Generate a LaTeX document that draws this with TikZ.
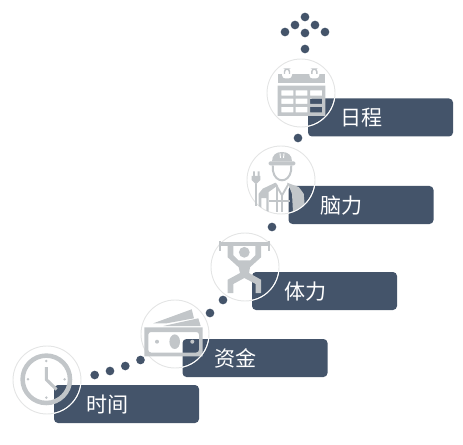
\documentclass[tikz,border=0pt]{standalone}
\usepackage{fontspec}
\newfontfamily\cjk{Noto Sans CJK SC}
\definecolor{barblue}{HTML}{44546A}
\definecolor{glyphgray}{HTML}{C2C6C9}
\definecolor{ringgray}{HTML}{E4E5E5}
\tikzset{
  bar/.style={fill=barblue,rounded corners=3pt,text=white,font=\cjk\fontsize{15.8}{18}\selectfont,
    text width=60.75pt,inner xsep=24pt,inner ysep=0pt,text height=12.5pt,text depth=0.5pt,minimum height=28.5pt,align=left},
  ring/.style={circle,draw=#1,line width=0.7pt,minimum size=51pt,inner sep=0pt},
  dotmark/.style={circle,fill=barblue,minimum size=6.5pt,inner sep=0pt},
  glyph/.style={fill=glyphgray,draw=none},
  stroke/.style={draw=glyphgray,line width=#1,fill=none}
}
\begin{document}
\begin{tikzpicture}[x=0.75pt,y=0.75pt,yscale=-1,xscale=1]
\useasboundingbox (0,0) rectangle (463,445);

% Dots
\foreach \px/\py [count=\n] in {305/17,295/25,315/25,285/32,325/32,305/33,305/49,298/138,272/227,223/300,210/313,140.5/360,125.3/366,110/371,94.7/375}
  \node (mark\n) [dotmark] at (\px,\py) {};

% Text Node
\node (planbar) [bar] at (380.5,117.5) {日程};
% Text Node
\node (mindbar) [bar] at (361,205) {脑力};
% Text Node
\node (bodybar) [bar] at (324.5,291) {体力};
% Text Node
\node (cashbar) [bar] at (255,358) {资金};
% Text Node
\node (timebar) [bar] at (126.5,404) {时间};

% Rings
\node (planring) [ring=ringgray] at (301,93) {};
\node (mindring) [ring=ringgray] at (281,180) {};
\node (bodyring) [ring=ringgray] at (245,267) {};
\node (cashring) [ring=ringgray] at (175,334) {};
\node (timering) [ring=ringgray] at (47,380) {};

% Calendar
\fill [glyph,even odd rule] (277.7,85.7) rectangle (325.3,116)
  (281.3,90.3) rectangle (293.3,95.7) (295.7,90.3) rectangle (307.3,95.7) (310,90.3) rectangle (322,95.7)
  (281.3,98.7) rectangle (293.3,104) (295.7,98.7) rectangle (307.3,104) (310,98.7) rectangle (322,104)
  (281.3,107) rectangle (293.3,112.3) (295.7,107) rectangle (307.3,112.3) (310,107) rectangle (322,112.3);
\fill [glyph] (277.7,74) rectangle (325.3,83.3);
\foreach \px in {287,314.3}{
  \fill [white,rounded corners=2.6pt] (\px-5,67) rectangle (\px+5,78.5);
  \draw [stroke=1.1pt,rounded corners=2pt] (\px-2.5,74) -- (\px-2.5,69) -- (\px+2.5,69) -- (\px+2.5,74);
}

% Worker
\begin{scope}
\clip (281,180) circle (34);
\fill [glyph,even odd rule] (258.7,212) -- (258.7,193.7) -- (262.7,188.7) -- (275.3,182.7) -- (278,185.3) -- (268.7,192) -- (268.7,212) -- cycle
  (261.3,198) rectangle (266.3,212);
\fill [glyph] (287,182.7) -- (298.7,187) -- (303.7,193.7) -- (305.3,212) -- (293,212) -- (292,194) -- (289,186) -- cycle;
\draw [stroke=1.5pt] (269.3,201.3) -- (290.3,201.3);
\draw [stroke=1.5pt] (282,195) -- (282,212);
\draw [stroke=1.4pt] (275.3,183.7) -- (282,195.3) -- (288.7,183.7);
\draw [stroke=1.4pt] (276.7,186) -- (276.7,212);
\end{scope}
\fill [glyph] (272,161.5) .. controls (272,155) and (276,152) .. (282,152) .. controls (288,152) and (292,155) .. (292,161.5) -- cycle;
\fill [glyph,rounded corners=1pt] (268.7,161.3) rectangle (295.3,165.3);
\draw [white,line width=0.7pt] (280,153.5) -- (280.5,158) (284,153.5) -- (283.5,158);
\draw [stroke=1.5pt] (272.7,165.3) -- (273,171) .. controls (274,177) and (278,180.3) .. (282,180.3) .. controls (286,180.3) and (290,177) .. (291,171) -- (291.3,165.3);
\fill [glyph] (253,171.3) rectangle (254.8,176) (257.7,171.3) rectangle (259.5,176);
\fill [glyph] (251.7,176) -- (260.3,176) -- (260.3,180) -- (256,184.5) -- (251.7,180) -- cycle;
\draw [stroke=1.4pt] (256,184) -- (256,206);

% Weightlifter
\fill [glyph] (221,242.3) rectangle (268.3,245.5);
\draw [stroke=1.2pt] (219.7,241.3) -- (219.7,251.3) (269,241.3) -- (269,251.3);
\fill [glyph] (227.7,245.3) -- (233.3,245.3) -- (233.3,255.3) -- (238.3,260.3) -- (250.3,260.3) -- (255.3,255.3) -- (255.3,245.3) -- (261,245.3) -- (261,257.3) -- (250,267.3) -- (249,273) -- (261,279.7) -- (261,293) -- (255.7,293) -- (255.7,284) -- (244.3,278) -- (233.3,284) -- (233.3,293) -- (227.7,293) -- (227.7,279.7) -- (240,273) -- (238.7,267.3) -- (227.7,257.3) -- cycle;
\fill [glyph] (244.3,252.3) circle (5.4);

% Money
\fill [glyph] (153.3,323.3) -- (191.7,309.3) -- (194,318.3) -- (166.7,323.3) -- cycle;
\fill [glyph] (163.3,326) -- (198.3,318.3) -- (200.7,326) -- cycle;
\fill [glyph,even odd rule] (144.3,327.3) rectangle (202.7,356.3)
  [rounded corners=2pt] (148.3,332) rectangle (199,352.5);
\fill [glyph] (174.7,341.7) ellipse (5.3 and 7.3);
\fill [glyph] (157,341.7) circle (2);
\fill [glyph] (192.3,341.7) circle (2);

% Clock
\draw [stroke=3.4pt] (46.3,379.3) circle (23.7);
\foreach \px/\py in {46.3/361,46.3/397.6,28/379.3,64.6/379.3}
  \fill [glyph] (\px,\py) circle (1.4);
\draw [stroke=2.3pt,line join=round] (46.3,367) -- (46.3,379.5) -- (56.5,389.5);

% Ring arcs lying on the bars
\foreach \bar/\rng in {planbar/planring,mindbar/mindring,bodybar/bodyring,cashbar/cashring,timebar/timering}{
  \begin{scope}
  \clip (\bar.south west) rectangle (\bar.north east);
  \node [ring=white] at (\rng.center) {};
  \end{scope}
}

\end{tikzpicture}
\end{document}
